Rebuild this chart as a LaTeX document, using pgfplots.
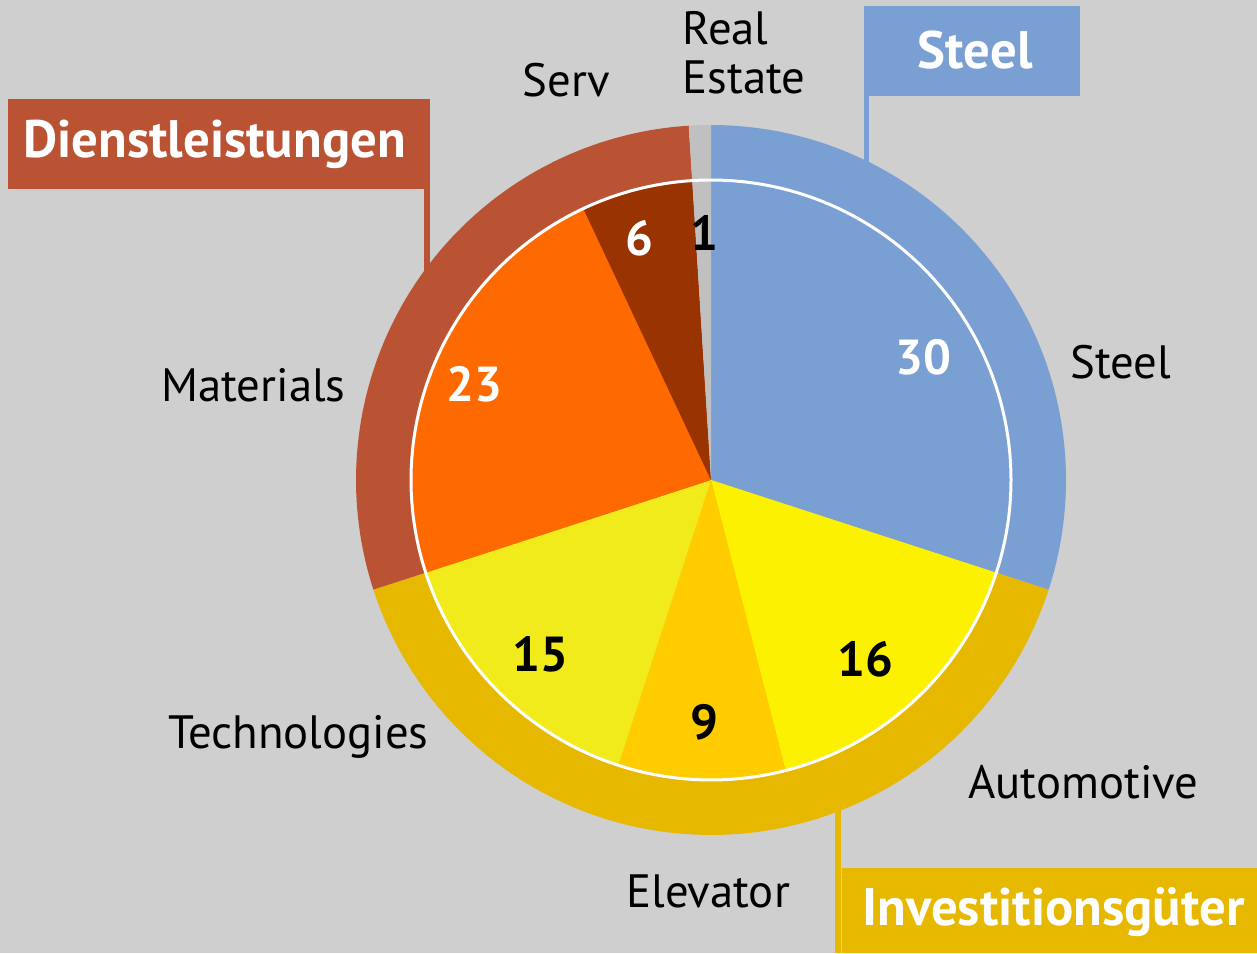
\documentclass[border=0pt]{standalone}
\usepackage{fontspec}
\setmainfont{PT Sans}
\usepackage{pgfplots}
\pgfplotsset{compat=1.18}
\definecolor{bgc}{HTML}{CFCFCF}
\definecolor{steelc}{HTML}{7A9FD3}
\definecolor{autoc}{HTML}{FCF200}
\definecolor{elevc}{HTML}{FFCC00}
\definecolor{techc}{HTML}{F2EB1B}
\definecolor{matc}{HTML}{FF6A00}
\definecolor{servc}{HTML}{993300}
\definecolor{rec}{HTML}{C0C0C0}
\definecolor{dienc}{HTML}{BA5334}
\definecolor{invc}{HTML}{E6B800}
\newcommand\curang{90}
\newcommand\slice[3]{%
  \pgfmathsetmacro\endang{\curang-3.6*#1}%
  \edef\temp{\noexpand\addplot[fill=#3,draw=none,mark=none,domain=\endang:\curang,samples=80] ({711+#2*cos(x)},{473+#2*sin(x)}) -- (axis cs:711,473) -- cycle;}%
  \temp
  \global\let\curang\endang
}
\newcommand\lab{\fontsize{13.3}{14}\selectfont}
\newcommand\numf{\fontsize{14}{16}\selectfont\bfseries}
\newcommand\bigf{\fontsize{15}{18}\selectfont\bfseries}
\begin{document}
\begin{tikzpicture}
\begin{axis}[width=12.57cm,height=9.53cm,scale only axis,
  xmin=0,xmax=1257,ymin=0,ymax=953,
  axis line style={draw=none},ticks=none,
  axis background/.style={fill=bgc}]
% stems
\draw[steelc,line width=1.5pt] (axis cs:866.5,857) -- (axis cs:866.5,780);
\draw[dienc,line width=1.5pt] (axis cs:427,764) -- (axis cs:427,680);
\draw[invc,line width=1.6pt] (axis cs:838,160) -- (axis cs:838,0);
% outer ring (groups)
\gdef\curang{90}
\slice{30}{355}{steelc}
\slice{40}{355}{invc}
\slice{29}{355}{dienc}
\slice{1}{355}{rec}
% inner pie (segments)
\gdef\curang{90}
\slice{30}{300}{steelc}
\slice{16}{300}{autoc}
\slice{9}{300}{elevc}
\slice{15}{300}{techc}
\slice{23}{300}{matc}
\slice{6}{300}{servc}
\slice{1}{300}{rec}
\addplot[draw=white,line width=0.85pt,mark=none,domain=0:360,samples=240] ({711+300*cos(x)},{473+300*sin(x)});
% boxes
\fill[steelc] (axis cs:864,857) rectangle (axis cs:1080,947);
\fill[dienc] (axis cs:8,764) rectangle (axis cs:430,854);
\fill[invc] (axis cs:842,0) rectangle (axis cs:1257,85);
\node[white,anchor=center] at (axis cs:975,903) {\bigf Steel};
\node[white,anchor=west] at (axis cs:11,809) {\bigf Dienstleistungen};
\node[white,anchor=west] at (axis cs:850,41) {\bigf Investitionsgüter};
% category labels
\node[anchor=west] at (axis cs:1058,591) {\lab Steel};
\node[anchor=west] at (axis cs:956,171) {\lab Automotive};
\node[anchor=west] at (axis cs:614,62) {\lab Elevator};
\node[anchor=east] at (axis cs:441,216) {\lab Technologies};
\node[anchor=east] at (axis cs:358,568) {\lab Materials};
\node[anchor=east] at (axis cs:622,873) {\lab Serv};
\node[anchor=west,align=left,font=\lab] at (axis cs:670,900) {Real\\Estate};
% values
\node[white] at (axis cs:923,596) {\numf 30};
\node at (axis cs:865,294) {\numf 16};
\node at (axis cs:704,231) {\numf 9};
\node at (axis cs:540,299) {\numf 15};
\node[white] at (axis cs:474,569) {\numf 23};
\node[white] at (axis cs:639,715) {\numf 6};
\node at (axis cs:704,720) {\numf 1};
\end{axis}
\end{tikzpicture}
\end{document}
